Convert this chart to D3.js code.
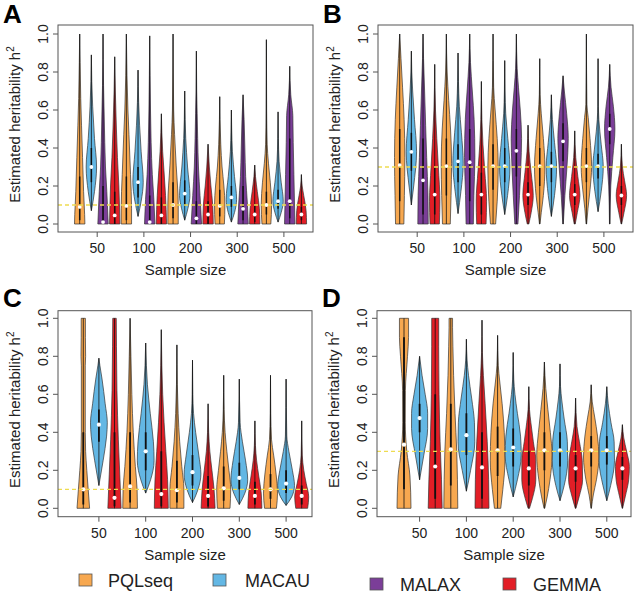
<!DOCTYPE html>
<html>
<head>
<meta charset="utf-8">
<script src="https://cdn.jsdelivr.net/npm/d3@7"></script>
<style>
  body { margin: 0; background: #fff; }
  svg text { font-family: "Liberation Sans", Arial, sans-serif; fill: #222; }
</style>
</head>
<body>
<div id="chart"></div>
<script>
// sample sizes (x groups) and methods
const sampleSizes = ['50', '100', '200', '300', '500'];
const methods = ['PQLseq', 'MACAU', 'MALAX', 'GEMMA'];
const methodColors = ['#F7A850', '#63B7E4', '#7B3E98', '#E21E26'];
const yTicks = [0, 0.2, 0.4, 0.6, 0.8, 1.0];
const trueH2 = { A: 0.1, B: 0.3, C: 0.1, D: 0.3 };

// each violin: m = median, q = [q1, q3], k = outline knots [h2, relative half width]
const aPQLseq = [
  { m: 0.09, q: [0.02, 0.25], k: [[0, 1], [0.05, 0.95], [0.17, 0.75], [0.35, 0.55], [0.52, 0.35], [0.66, 0.2], [0.85, 0.08], [1.0, 0]] },
  { m: 0.095, q: [0.02, 0.25], k: [[0, 1], [0.08, 1], [0.26, 0.8], [0.47, 0.5], [0.6, 0.3], [0.78, 0.12], [1.0, 0]] },
  { m: 0.10, q: [0.03, 0.22], k: [[0, 1], [0.1, 1], [0.31, 0.6], [0.47, 0.3], [0.6, 0.12], [1.0, 0]] },
  { m: 0.095, q: [0.04, 0.18], k: [[0, 0.9], [0.1, 1], [0.2, 0.8], [0.3, 0.45], [0.42, 0.2], [0.55, 0.06], [0.67, 0]] },
  { m: 0.10, q: [0.05, 0.17], k: [[0, 0.85], [0.1, 1], [0.22, 0.75], [0.32, 0.4], [0.42, 0.15], [0.6, 0.05], [0.97, 0]] }
];
const aMACAU = [
  { m: 0.30, q: [0.22, 0.40], k: [[0.07, 0], [0.17, 0.6], [0.3, 1], [0.45, 0.6], [0.62, 0.25], [0.75, 0.08], [0.89, 0]] },
  { m: 0.22, q: [0.14, 0.30], k: [[0.04, 0], [0.12, 0.6], [0.22, 1], [0.38, 0.6], [0.52, 0.3], [0.64, 0.12], [0.81, 0]] },
  { m: 0.16, q: [0.10, 0.23], k: [[0.02, 0], [0.08, 0.6], [0.15, 1], [0.3, 0.55], [0.45, 0.2], [0.55, 0.08], [0.70, 0]] },
  { m: 0.14, q: [0.09, 0.20], k: [[0.01, 0], [0.06, 0.6], [0.13, 1], [0.25, 0.6], [0.38, 0.2], [0.5, 0.06], [0.60, 0]] },
  { m: 0.12, q: [0.08, 0.18], k: [[0.01, 0], [0.06, 0.6], [0.12, 1], [0.22, 0.6], [0.33, 0.2], [0.45, 0.06], [0.59, 0]] }
];
const aMALAX = [
  { m: 0.01, q: [0, 0.2], k: [[0, 1], [0.17, 0.73], [0.3, 0.47], [0.43, 0.33], [0.6, 0.2], [0.73, 0.1], [1.0, 0]] },
  { m: 0.01, q: [0, 0.15], k: [[0, 1], [0.13, 0.8], [0.26, 0.5], [0.43, 0.27], [0.6, 0.15], [0.78, 0.07], [0.99, 0]] },
  { m: 0.03, q: [0, 0.12], k: [[0, 1], [0.15, 0.7], [0.3, 0.4], [0.45, 0.25], [0.58, 0.15], [0.7, 0.06], [0.91, 0]] },
  { m: 0.08, q: [0.02, 0.2], k: [[0, 1], [0.1, 0.85], [0.25, 0.5], [0.4, 0.35], [0.55, 0.2], [0.68, 0]] },
  { m: 0.12, q: [0.03, 0.45], k: [[0, 1], [0.26, 0.8], [0.43, 0.67], [0.57, 0.6], [0.68, 0.2], [0.83, 0]] }
];
const aGEMMA = [
  { m: 0.045, q: [0, 0.17], k: [[0, 1], [0.2, 0.8], [0.35, 0.53], [0.5, 0.33], [0.7, 0.12], [0.88, 0]] },
  { m: 0.045, q: [0, 0.14], k: [[0, 1], [0.15, 0.8], [0.28, 0.5], [0.38, 0.25], [0.58, 0]] },
  { m: 0.05, q: [0, 0.12], k: [[0, 1], [0.1, 0.9], [0.2, 0.55], [0.3, 0.25], [0.42, 0]] },
  { m: 0.05, q: [0.01, 0.10], k: [[0, 1], [0.08, 0.9], [0.17, 0.5], [0.25, 0.15], [0.31, 0]] },
  { m: 0.05, q: [0.02, 0.09], k: [[0, 1], [0.07, 0.9], [0.15, 0.45], [0.2, 0.15], [0.26, 0]] }
];

const bPQLseq = [
  { m: 0.31, q: [0.12, 0.50], k: [[0, 0.8], [0.15, 0.9], [0.35, 1], [0.55, 0.85], [0.72, 0.55], [0.87, 0.25], [1.0, 0]] },
  { m: 0.305, q: [0.15, 0.45], k: [[0, 0.75], [0.15, 0.9], [0.32, 1], [0.5, 0.8], [0.65, 0.45], [0.8, 0.15], [1.0, 0]] },
  { m: 0.305, q: [0.18, 0.42], k: [[0, 0.5], [0.12, 0.8], [0.3, 1], [0.45, 0.8], [0.6, 0.4], [0.72, 0.12], [1.0, 0]] },
  { m: 0.305, q: [0.20, 0.40], k: [[0, 0.05], [0.06, 0.3], [0.15, 0.7], [0.3, 1], [0.45, 0.7], [0.58, 0.3], [0.68, 0.08], [0.87, 0]] },
  { m: 0.305, q: [0.22, 0.40], k: [[0, 0.05], [0.08, 0.3], [0.18, 0.7], [0.3, 1], [0.45, 0.7], [0.56, 0.35], [0.63, 0.1], [1.0, 0]] }
];
const bMACAU = [
  { m: 0.38, q: [0.28, 0.48], k: [[0.1, 0], [0.2, 0.45], [0.38, 1], [0.55, 0.6], [0.7, 0.25], [0.8, 0.08], [0.91, 0]] },
  { m: 0.33, q: [0.22, 0.42], k: [[0.055, 0], [0.17, 0.55], [0.32, 1], [0.48, 0.65], [0.62, 0.25], [0.75, 0.08], [0.90, 0]] },
  { m: 0.305, q: [0.22, 0.40], k: [[0.05, 0], [0.15, 0.55], [0.3, 1], [0.45, 0.6], [0.58, 0.2], [0.7, 0.06], [0.86, 0]] },
  { m: 0.305, q: [0.22, 0.38], k: [[0.04, 0], [0.15, 0.6], [0.3, 1], [0.43, 0.6], [0.55, 0.2], [0.68, 0]] },
  { m: 0.305, q: [0.24, 0.37], k: [[0.065, 0], [0.17, 0.6], [0.3, 1], [0.42, 0.6], [0.55, 0.15], [0.62, 0.05], [0.87, 0]] }
];
const bMALAX = [
  { m: 0.23, q: [0.05, 0.45], k: [[0, 1], [0.15, 0.95], [0.35, 0.7], [0.52, 0.5], [0.7, 0.3], [0.87, 0.1], [1.0, 0]] },
  { m: 0.325, q: [0.12, 0.50], k: [[0, 0.7], [0.15, 0.8], [0.35, 1], [0.55, 0.85], [0.7, 0.5], [0.85, 0.15], [1.0, 0]] },
  { m: 0.385, q: [0.25, 0.50], k: [[0, 0.3], [0.15, 0.6], [0.3, 0.85], [0.45, 1], [0.6, 0.75], [0.72, 0.4], [0.82, 0.15], [1.0, 0]] },
  { m: 0.435, q: [0.33, 0.53], k: [[0, 0.05], [0.15, 0.35], [0.3, 0.75], [0.45, 1], [0.58, 0.7], [0.7, 0.25], [0.78, 0]] },
  { m: 0.50, q: [0.42, 0.58], k: [[0, 0.05], [0.2, 0.2], [0.35, 0.6], [0.5, 1], [0.62, 0.7], [0.72, 0.25], [0.84, 0]] }
];
const bGEMMA = [
  { m: 0.155, q: [0.05, 0.30], k: [[0, 0.9], [0.12, 1], [0.3, 0.7], [0.45, 0.4], [0.6, 0.15], [0.84, 0]] },
  { m: 0.155, q: [0.05, 0.27], k: [[0, 0.9], [0.12, 1], [0.28, 0.65], [0.42, 0.3], [0.55, 0.1], [0.75, 0]] },
  { m: 0.155, q: [0.10, 0.22], k: [[0, 0.15], [0.06, 0.6], [0.15, 1], [0.27, 0.6], [0.38, 0.2], [0.52, 0]] },
  { m: 0.155, q: [0.10, 0.21], k: [[0, 0.1], [0.06, 0.5], [0.15, 1], [0.25, 0.6], [0.35, 0.2], [0.49, 0]] },
  { m: 0.15, q: [0.10, 0.20], k: [[0, 0.05], [0.06, 0.5], [0.15, 1], [0.23, 0.6], [0.3, 0.2], [0.42, 0]] }
];

const cPQLseq = [
  { m: 0.10, q: [0.02, 0.40], k: [[0, 0.9], [0.1, 0.7], [0.2, 0.5], [0.3, 0.33], [0.4, 0.28], [0.75, 0.28], [0.8, 0.33], [0.9, 0.3], [1.0, 0.3]] },
  { m: 0.115, q: [0.03, 0.40], k: [[0, 1.05], [0.1, 1.0], [0.22, 0.75], [0.4, 0.45], [0.6, 0.25], [0.8, 0.12], [1.0, 0]] },
  { m: 0.095, q: [0.03, 0.25], k: [[0, 1.0], [0.1, 1.0], [0.22, 0.7], [0.35, 0.4], [0.5, 0.18], [0.65, 0.06], [0.86, 0]] },
  { m: 0.105, q: [0.04, 0.22], k: [[0, 0.9], [0.1, 1.0], [0.2, 0.75], [0.3, 0.45], [0.4, 0.2], [0.52, 0.06], [0.70, 0]] },
  { m: 0.10, q: [0.05, 0.18], k: [[0, 0.85], [0.08, 1.0], [0.18, 0.8], [0.28, 0.45], [0.36, 0.15], [0.5, 0.04], [0.70, 0]] }
];
const cMACAU = [
  { m: 0.44, q: [0.35, 0.52], k: [[0.12, 0], [0.25, 0.6], [0.38, 1.1], [0.45, 1.2], [0.55, 0.9], [0.68, 0.45], [0.75, 0.15], [0.79, 0]] },
  { m: 0.30, q: [0.20, 0.40], k: [[0.08, 0], [0.15, 0.7], [0.25, 1.2], [0.35, 1.1], [0.5, 0.65], [0.65, 0.25], [0.75, 0.1], [0.87, 0]] },
  { m: 0.19, q: [0.12, 0.28], k: [[0.03, 0], [0.1, 0.8], [0.18, 1.2], [0.28, 0.9], [0.4, 0.45], [0.5, 0.15], [0.6, 0.05], [0.78, 0]] },
  { m: 0.16, q: [0.10, 0.24], k: [[0.02, 0], [0.08, 0.8], [0.15, 1.2], [0.25, 0.9], [0.35, 0.45], [0.45, 0.12], [0.68, 0]] },
  { m: 0.13, q: [0.08, 0.20], k: [[0.015, 0], [0.06, 0.8], [0.12, 1.2], [0.2, 0.9], [0.3, 0.4], [0.38, 0.1], [0.68, 0]] }
];
const cGEMMA = [
  { m: 0.055, q: [0.01, 0.40], k: [[0, 0.95], [0.18, 0.75], [0.36, 0.55], [0.62, 0.35], [0.85, 0.28], [1.0, 0.25]] },
  { m: 0.075, q: [0.01, 0.30], k: [[0, 1.0], [0.15, 0.9], [0.3, 0.65], [0.45, 0.4], [0.6, 0.2], [0.75, 0.08], [0.94, 0]] },
  { m: 0.065, q: [0.01, 0.17], k: [[0, 1.0], [0.1, 0.85], [0.2, 0.55], [0.3, 0.25], [0.4, 0.08], [0.55, 0]] },
  { m: 0.065, q: [0.02, 0.14], k: [[0, 1.0], [0.08, 0.9], [0.17, 0.55], [0.25, 0.25], [0.33, 0.08], [0.46, 0]] },
  { m: 0.065, q: [0.02, 0.12], k: [[0, 0.85], [0.06, 1.0], [0.13, 0.65], [0.2, 0.3], [0.28, 0.08], [0.46, 0]] }
];

const dPQLseq = [
  { m: 0.335, q: [0.10, 0.90], k: [[0, 1.0], [0.17, 0.85], [0.3, 0.4], [0.45, 0.18], [0.62, 0.2], [0.8, 0.5], [0.9, 0.65], [1.0, 0.65]] },
  { m: 0.31, q: [0.12, 0.55], k: [[0, 1.0], [0.15, 0.95], [0.3, 0.85], [0.5, 0.6], [0.7, 0.4], [0.85, 0.3], [0.95, 0.25], [1.0, 0.25]] },
  { m: 0.305, q: [0.17, 0.43], k: [[0, 0.45], [0.1, 0.75], [0.25, 1.05], [0.4, 0.95], [0.55, 0.65], [0.67, 0.3], [0.75, 0.1], [0.91, 0]] },
  { m: 0.305, q: [0.20, 0.40], k: [[0, 0.05], [0.06, 0.4], [0.15, 0.8], [0.28, 1.1], [0.4, 0.85], [0.52, 0.5], [0.63, 0.2], [0.77, 0]] },
  { m: 0.305, q: [0.22, 0.38], k: [[0, 0.03], [0.07, 0.3], [0.15, 0.75], [0.27, 1.1], [0.38, 0.9], [0.48, 0.5], [0.56, 0.15], [0.65, 0]] }
];
const dMACAU = [
  { m: 0.475, q: [0.40, 0.55], k: [[0.15, 0], [0.28, 0.6], [0.42, 1.15], [0.5, 1.15], [0.6, 0.8], [0.7, 0.35], [0.8, 0]] },
  { m: 0.385, q: [0.28, 0.50], k: [[0.09, 0], [0.2, 0.6], [0.35, 1.2], [0.45, 1.15], [0.58, 0.75], [0.7, 0.3], [0.78, 0.1], [0.89, 0]] },
  { m: 0.32, q: [0.22, 0.42], k: [[0.06, 0], [0.15, 0.6], [0.28, 1.15], [0.38, 1.05], [0.5, 0.6], [0.6, 0.25], [0.68, 0.08], [0.82, 0]] },
  { m: 0.305, q: [0.22, 0.40], k: [[0.04, 0], [0.12, 0.6], [0.25, 1.1], [0.35, 1.05], [0.47, 0.6], [0.57, 0.25], [0.64, 0.08], [0.76, 0]] },
  { m: 0.305, q: [0.23, 0.38], k: [[0.04, 0], [0.12, 0.55], [0.25, 1.1], [0.35, 1.05], [0.45, 0.6], [0.55, 0.2], [0.64, 0]] }
];
const dGEMMA = [
  { m: 0.22, q: [0.05, 0.60], k: [[0, 1.0], [0.15, 0.9], [0.35, 0.7], [0.6, 0.55], [0.85, 0.5], [1.0, 0.5]] },
  { m: 0.215, q: [0.05, 0.40], k: [[0, 1.0], [0.15, 0.95], [0.35, 0.75], [0.55, 0.45], [0.7, 0.2], [0.82, 0.06], [0.99, 0]] },
  { m: 0.21, q: [0.12, 0.30], k: [[0, 0.1], [0.05, 0.5], [0.15, 1.0], [0.25, 1.0], [0.35, 0.65], [0.45, 0.3], [0.52, 0.1], [0.64, 0]] },
  { m: 0.21, q: [0.14, 0.28], k: [[0, 0.05], [0.06, 0.5], [0.15, 1.0], [0.25, 0.95], [0.35, 0.55], [0.43, 0.2], [0.58, 0]] },
  { m: 0.21, q: [0.15, 0.27], k: [[0, 0.03], [0.06, 0.4], [0.15, 0.9], [0.22, 1.0], [0.3, 0.6], [0.37, 0.2], [0.44, 0]] }
];

const width = 636, height = 595;
const svg = d3.select('#chart').append('svg')
  .attr('width', width)
  .attr('height', height);

// panel layouts (pixel geometry of each plot box)
const panels = [
  { id: 'A', series: [aPQLseq, aMACAU, aMALAX, aGEMMA], cols: [0, 1, 2, 3], box: [58, 313, 25, 232], y: [224, 34], x: [79.7, 301.4], unit: 5.2, lx: 3, ly: 23 },
  { id: 'B', series: [bPQLseq, bMACAU, bMALAX, bGEMMA], cols: [0, 1, 2, 3], box: [378, 633, 25, 232], y: [224, 34], x: [399.7, 621.4], unit: 5.2, lx: 323, ly: 23 },
  { id: 'C', series: [cPQLseq, cMACAU, cGEMMA], cols: [0, 1, 3], box: [58, 312, 310.7, 516.7], y: [508.3, 318.3], x: [83.3, 301.7], unit: 7, lx: 3, ly: 307 },
  { id: 'D', series: [dPQLseq, dMACAU, dGEMMA], cols: [0, 1, 3], box: [377, 631, 310.7, 516.7], y: [508.3, 318.3], x: [404, 622.4], unit: 7, lx: 322, ly: 307 }
];

panels.forEach(p => {
  const g = svg.append('g');
  const nm = p.series.length;
  const n = nm * sampleSizes.length;
  const x = d3.scaleLinear().domain([1, n]).range(p.x);
  const y = d3.scaleLinear().domain([0, 1]).range(p.y);
  const w = d3.scaleLinear().domain([0, 1]).range([0, p.unit]);
  const [bx0, bx1, by0, by1] = p.box;
  const wide = p.unit > 6;

  // flatten violins in plotting order: group by sample size, then method
  const violins = [];
  sampleSizes.forEach((s, gi) => {
    p.series.forEach((ser, mi) => {
      violins.push({ pos: gi * nm + mi + 1, color: methodColors[p.cols[mi]], d: ser[gi] });
    });
  });

  violins.forEach(v => {
    const cx = x(v.pos);
    const area = d3.area()
      .y(d => y(d[0]))
      .x0(d => cx - w(d[1]))
      .x1(d => cx + w(d[1]))
      .curve(d3.curveMonotoneY);

    g.append('path')
      .attr('d', area(v.d.k))
      .attr('fill', v.color)
      .attr('stroke', '#333')
      .attr('stroke-width', 0.7);

    const lo = v.d.k[0][0], hi = v.d.k[v.d.k.length - 1][0];
    g.append('line')
      .attr('x1', cx).attr('x2', cx)
      .attr('y1', y(lo)).attr('y2', y(hi))
      .attr('stroke', '#111')
      .attr('stroke-width', 0.8);

    g.append('line')
      .attr('x1', cx).attr('x2', cx)
      .attr('y1', y(v.d.q[0])).attr('y2', y(v.d.q[1]))
      .attr('stroke', '#111')
      .attr('stroke-width', wide ? 1.8 : 1.5);

    g.append('circle')
      .attr('cx', cx)
      .attr('cy', y(v.d.m))
      .attr('r', wide ? 2.1 : 1.9)
      .attr('fill', '#fff');
  });

  // true heritability reference line
  g.append('line')
    .attr('x1', bx0).attr('x2', bx1)
    .attr('y1', y(trueH2[p.id])).attr('y2', y(trueH2[p.id]))
    .attr('stroke', '#EEDC50')
    .attr('stroke-width', 1.3)
    .attr('stroke-dasharray', '4,3');

  // box
  g.append('rect')
    .attr('x', bx0).attr('y', by0)
    .attr('width', bx1 - bx0).attr('height', by1 - by0)
    .attr('fill', 'none')
    .attr('stroke', '#555')
    .attr('stroke-width', 1);

  // y axis
  yTicks.forEach(t => {
    g.append('line')
      .attr('x1', bx0 - 5).attr('x2', bx0)
      .attr('y1', y(t)).attr('y2', y(t))
      .attr('stroke', '#555');
    g.append('text')
      .attr('transform', `translate(${bx0 - 10},${y(t)}) rotate(-90)`)
      .attr('text-anchor', 'middle')
      .style('font-size', '14px')
      .text(d3.format('.1f')(t));
  });

  // x axis: ticks at the centre of each sample-size group
  sampleSizes.forEach((s, gi) => {
    const tx = x(gi * nm + (nm + 1) / 2);
    g.append('line')
      .attr('x1', tx).attr('x2', tx)
      .attr('y1', by1).attr('y2', by1 + 5)
      .attr('stroke', '#555');
    g.append('text')
      .attr('x', tx)
      .attr('y', by1 + 21)
      .attr('text-anchor', 'middle')
      .style('font-size', '14px')
      .text(s);
  });

  g.append('text')
    .attr('x', (bx0 + bx1) / 2)
    .attr('y', by1 + 43)
    .attr('text-anchor', 'middle')
    .style('font-size', '15px')
    .text('Sample size');

  const yl = g.append('text')
    .attr('transform', `translate(${bx0 - 38},${(by0 + by1) / 2 - 4}) rotate(-90)`)
    .attr('text-anchor', 'middle')
    .style('font-size', '15px');
  yl.append('tspan').text('Estimated heritability h');
  yl.append('tspan').attr('dy', -6).style('font-size', '10px').text('2');

  g.append('text')
    .attr('x', p.lx)
    .attr('y', p.ly)
    .style('font-size', '26px')
    .style('font-weight', 'bold')
    .style('fill', '#000')
    .text(p.id);
});

// legend
const legendPos = [[79, 574, 108, 587], [213, 574, 245, 587], [370, 578, 400, 591], [503, 578, 533, 591]];
methods.forEach((m, i) => {
  const [sx, sy, tx, ty] = legendPos[i];
  svg.append('rect')
    .attr('x', sx).attr('y', sy)
    .attr('width', 13).attr('height', 12)
    .attr('fill', methodColors[i])
    .attr('stroke', '#555')
    .attr('stroke-width', 0.8);
  svg.append('text')
    .attr('x', tx).attr('y', ty)
    .style('font-size', '18px')
    .text(m);
});
</script>
</body>
</html>
